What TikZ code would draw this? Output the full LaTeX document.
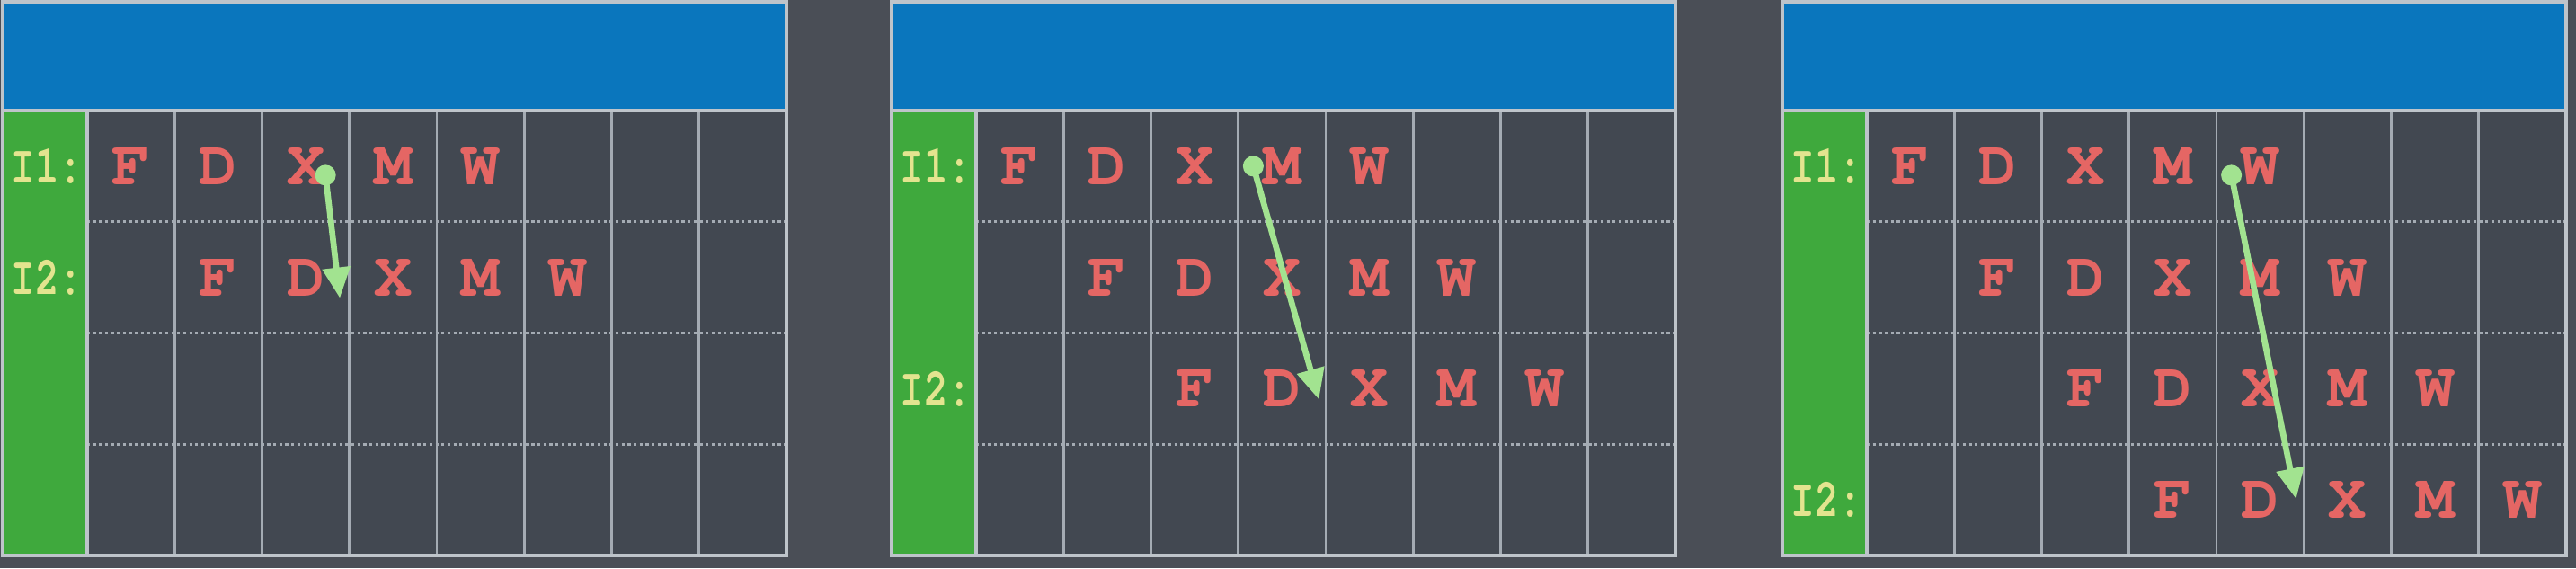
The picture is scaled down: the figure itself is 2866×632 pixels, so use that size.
\documentclass[tikz,border=0pt]{standalone}
\usepackage{fontspec}
\newfontfamily\typefont{texgyrecursor}[Extension=.otf,
    UprightFont=*-regular, BoldFont=*-bold]
\usetikzlibrary{calc,arrows.meta}
\definecolor{board}{HTML}{4A4E56}
\definecolor{cellgray}{HTML}{424851}
\definecolor{headblue}{HTML}{0A76BD}
\definecolor{sidegreen}{HTML}{3FA93D}
\definecolor{linegray}{HTML}{A4ABB3}
\definecolor{framegray}{HTML}{BEC4CA}
\definecolor{letterred}{HTML}{E56664}
\definecolor{labelyellow}{HTML}{E3E48F}
\definecolor{arrowgreen}{HTML}{A2E390}

\begin{document}
\begin{tikzpicture}[
    x=0.01cm, y=-0.01cm,
    grid line/.style={draw=linegray, line width=0.8pt},
    row line/.style={draw=linegray, line width=0.9pt, densely dotted},
    frame line/.style={draw=framegray, line width=1pt},
    letter/.style={text=letterred, inner sep=0pt,
        font=\typefont\bfseries\fontsize{20}{20}\selectfont},
    row label/.style={text=labelyellow, inner sep=0pt, anchor=west,
        font=\typefont\bfseries\fontsize{17}{17}\selectfont},
    pile/.style={draw=arrowgreen, line width=1.9pt,
        -{Triangle[length=0.34cm, width=0.3cm]}}
    ]
    \useasboundingbox (0,0) rectangle (2866,632);
    \fill[board] (0,0) rectangle (2866,632);
    % Panels
    \foreach \p/\ox/\n in {1/3/2, 2/992/3, 3/1983/4} {
        \fill[headblue] (\ox,2) rectangle ++(872,121);
        \fill[sidegreen] (\ox,123) rectangle ++(94,495);
        \fill[cellgray] (\ox+94,123) rectangle ++(778,495);
        \foreach \c in {1,...,7}
            \draw[grid line] ({\ox+94+\c*97.25},123) -- ++(0,495);
        \foreach \r in {1,2,3}
            \draw[row line] ({\ox+94},{123+\r*123.75}) -- ++(778,0);
        \draw[frame line] (\ox,2) rectangle ++(872,616);
        \draw[frame line] (\ox,123) -- ++(872,0);
        \draw[frame line] ({\ox+94},123) -- ++(0,495);
        % Letters, one row per instruction step
        \foreach \r in {1,...,\n}
            \foreach \ch [count=\k] in {F,D,X,M,W}
                \node[letter] (l\p-\r-\ch)
                    at ({\ox+94+(\r+\k-1.5)*97.25}, {123+(\r-0.5)*123.75}) {\ch};
        \node[row label] (ia-\p) at ({\ox+9}, {123+0.5*123.75})
            {\scalebox{0.74}[1]{I1:}};
        \node[row label] (ib-\p) at ({\ox+9}, {123+(\n-0.5)*123.75})
            {\scalebox{0.74}[1]{I2:}};
    }
    % Dependence arrows
    \coordinate (dot1) at ($(l1-1-X)+(22,10)$);
    \coordinate (tip1) at ($(l1-2-D)+(38,23)$);
    \coordinate (dot2) at ($(l2-1-M)+(-32,0)$);
    \coordinate (tip2) at ($(l2-3-D)+(41,12)$);
    \coordinate (dot3) at ($(l3-1-W)+(-32,10)$);
    \coordinate (tip3) at ($(l3-4-D)+(40,-1)$);
    \foreach \i in {1,2,3} {
        \draw[pile] (dot\i) -- (tip\i);
        \fill[arrowgreen] (dot\i) circle[radius=0.115cm];
    }
\end{tikzpicture}
\end{document}
